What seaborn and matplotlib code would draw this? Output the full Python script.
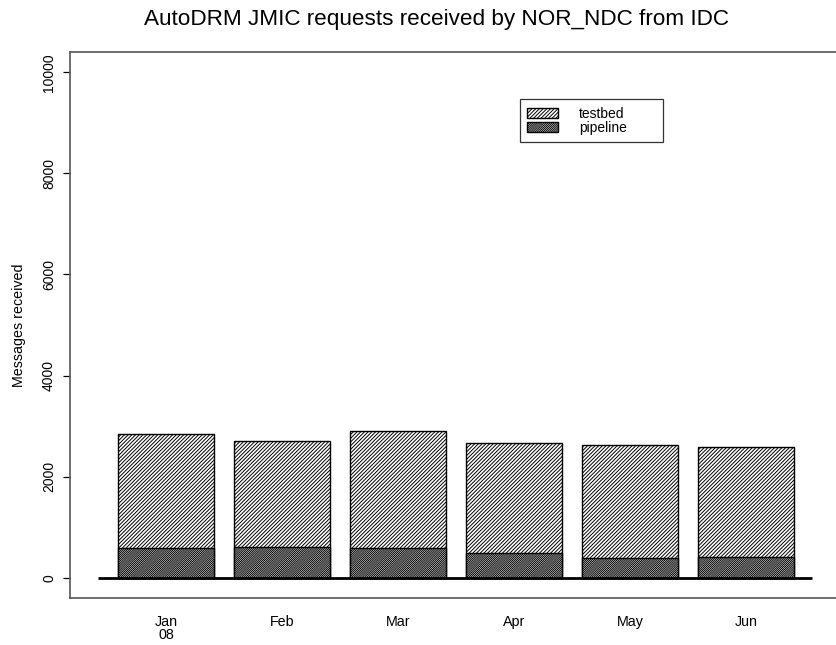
import matplotlib
matplotlib.use("Agg")
import matplotlib.pyplot as plt
import seaborn as sns
import pandas as pd
from matplotlib.patches import Patch

months = ["Jan\n08", "Feb", "Mar", "Apr", "May", "Jun"]
pipeline = [590, 615, 580, 495, 400, 420]
testbed = [2260, 2085, 2315, 2165, 2230, 2170]
yticks = [0, 2000, 4000, 6000, 8000, 10000]

sns.set_theme(style="ticks")
plt.rcParams['font.family'] = ['Liberation Sans', 'DejaVu Sans']
plt.rcParams['hatch.linewidth'] = 0.7
for k in ["text.color", "axes.labelcolor", "xtick.color", "ytick.color"]:
    plt.rcParams[k] = "black"

HATCH_T = "/" * 9
HATCH_P = "/" * 16

df = pd.DataFrame({"month": months, "pipeline": pipeline, "testbed": testbed})
df["total"] = df["pipeline"] + df["testbed"]

fig = plt.figure(figsize=(8.36, 6.45), dpi=100)
ax = fig.add_axes([70/836, 1 - 598/645, 1 - 70/836 + 0.01, (598-52)/645])

w = 97/116.5
sns.barplot(data=df, x="month", y="total", ax=ax, color="white", edgecolor="black",
            linewidth=1.0, hatch=HATCH_T, width=w, saturation=1)
sns.barplot(data=df, x="month", y="pipeline", ax=ax, color="white", edgecolor="black",
            linewidth=1.0, hatch=HATCH_P, width=w, saturation=1)
for p in ax.patches:
    p.set_facecolor("white")

ax.set_xlim(-96.5/116.5, (836-166.5)/116.5 + 0.1)
ax.set_ylim(-400, 10400)
ax.hlines(0, (98-166.5)/116.5, (815-166.5)/116.5, color="black", linewidth=2.0, zorder=5)

ax.set_yticks(yticks)
ax.set_yticklabels([str(v) for v in yticks], rotation=90, va="center", fontsize=10)
ax.tick_params(axis="y", left=True, length=5, width=0.9, color="black", pad=5)
ax.tick_params(axis="x", bottom=False, length=0, labelsize=10.3, pad=12)
for lab in ax.get_xticklabels():
    lab.set_linespacing(0.95)
ax.set_xlabel("")
ax.set_ylabel("Messages received", fontsize=10.3)
ax.yaxis.set_label_coords(-(70-26)/766, (598-325)/546)

for s in ["left", "bottom", "top"]:
    ax.spines[s].set_visible(True)
    ax.spines[s].set_color("#555555")
    ax.spines[s].set_linewidth(1.2)
ax.spines["right"].set_visible(False)

handles = [Patch(facecolor="white", edgecolor="black", hatch=HATCH_T, label="testbed"),
           Patch(facecolor="white", edgecolor="black", hatch=HATCH_P, label="pipeline")]
x0 = (515-70)/766
y1 = (598-99)/546
leg = ax.legend(handles=handles, loc="upper left",
                bbox_to_anchor=(x0, y1 - 44/546, (657-515)/766, 44/546), mode="expand",
                fontsize=10, frameon=True, fancybox=False, handlelength=2.2, handleheight=0.78,
                borderpad=0.55, labelspacing=0.0, handletextpad=1.5, borderaxespad=0)
leg.get_frame().set_edgecolor("black")
leg.get_frame().set_linewidth(0.9)

fig.suptitle("AutoDRM JMIC requests received by NOR_NDC from IDC", y=1 - 19/645, va="center",
             x=437/836, fontsize=16.2, color="black")

fig.savefig("out.png", dpi=100)
